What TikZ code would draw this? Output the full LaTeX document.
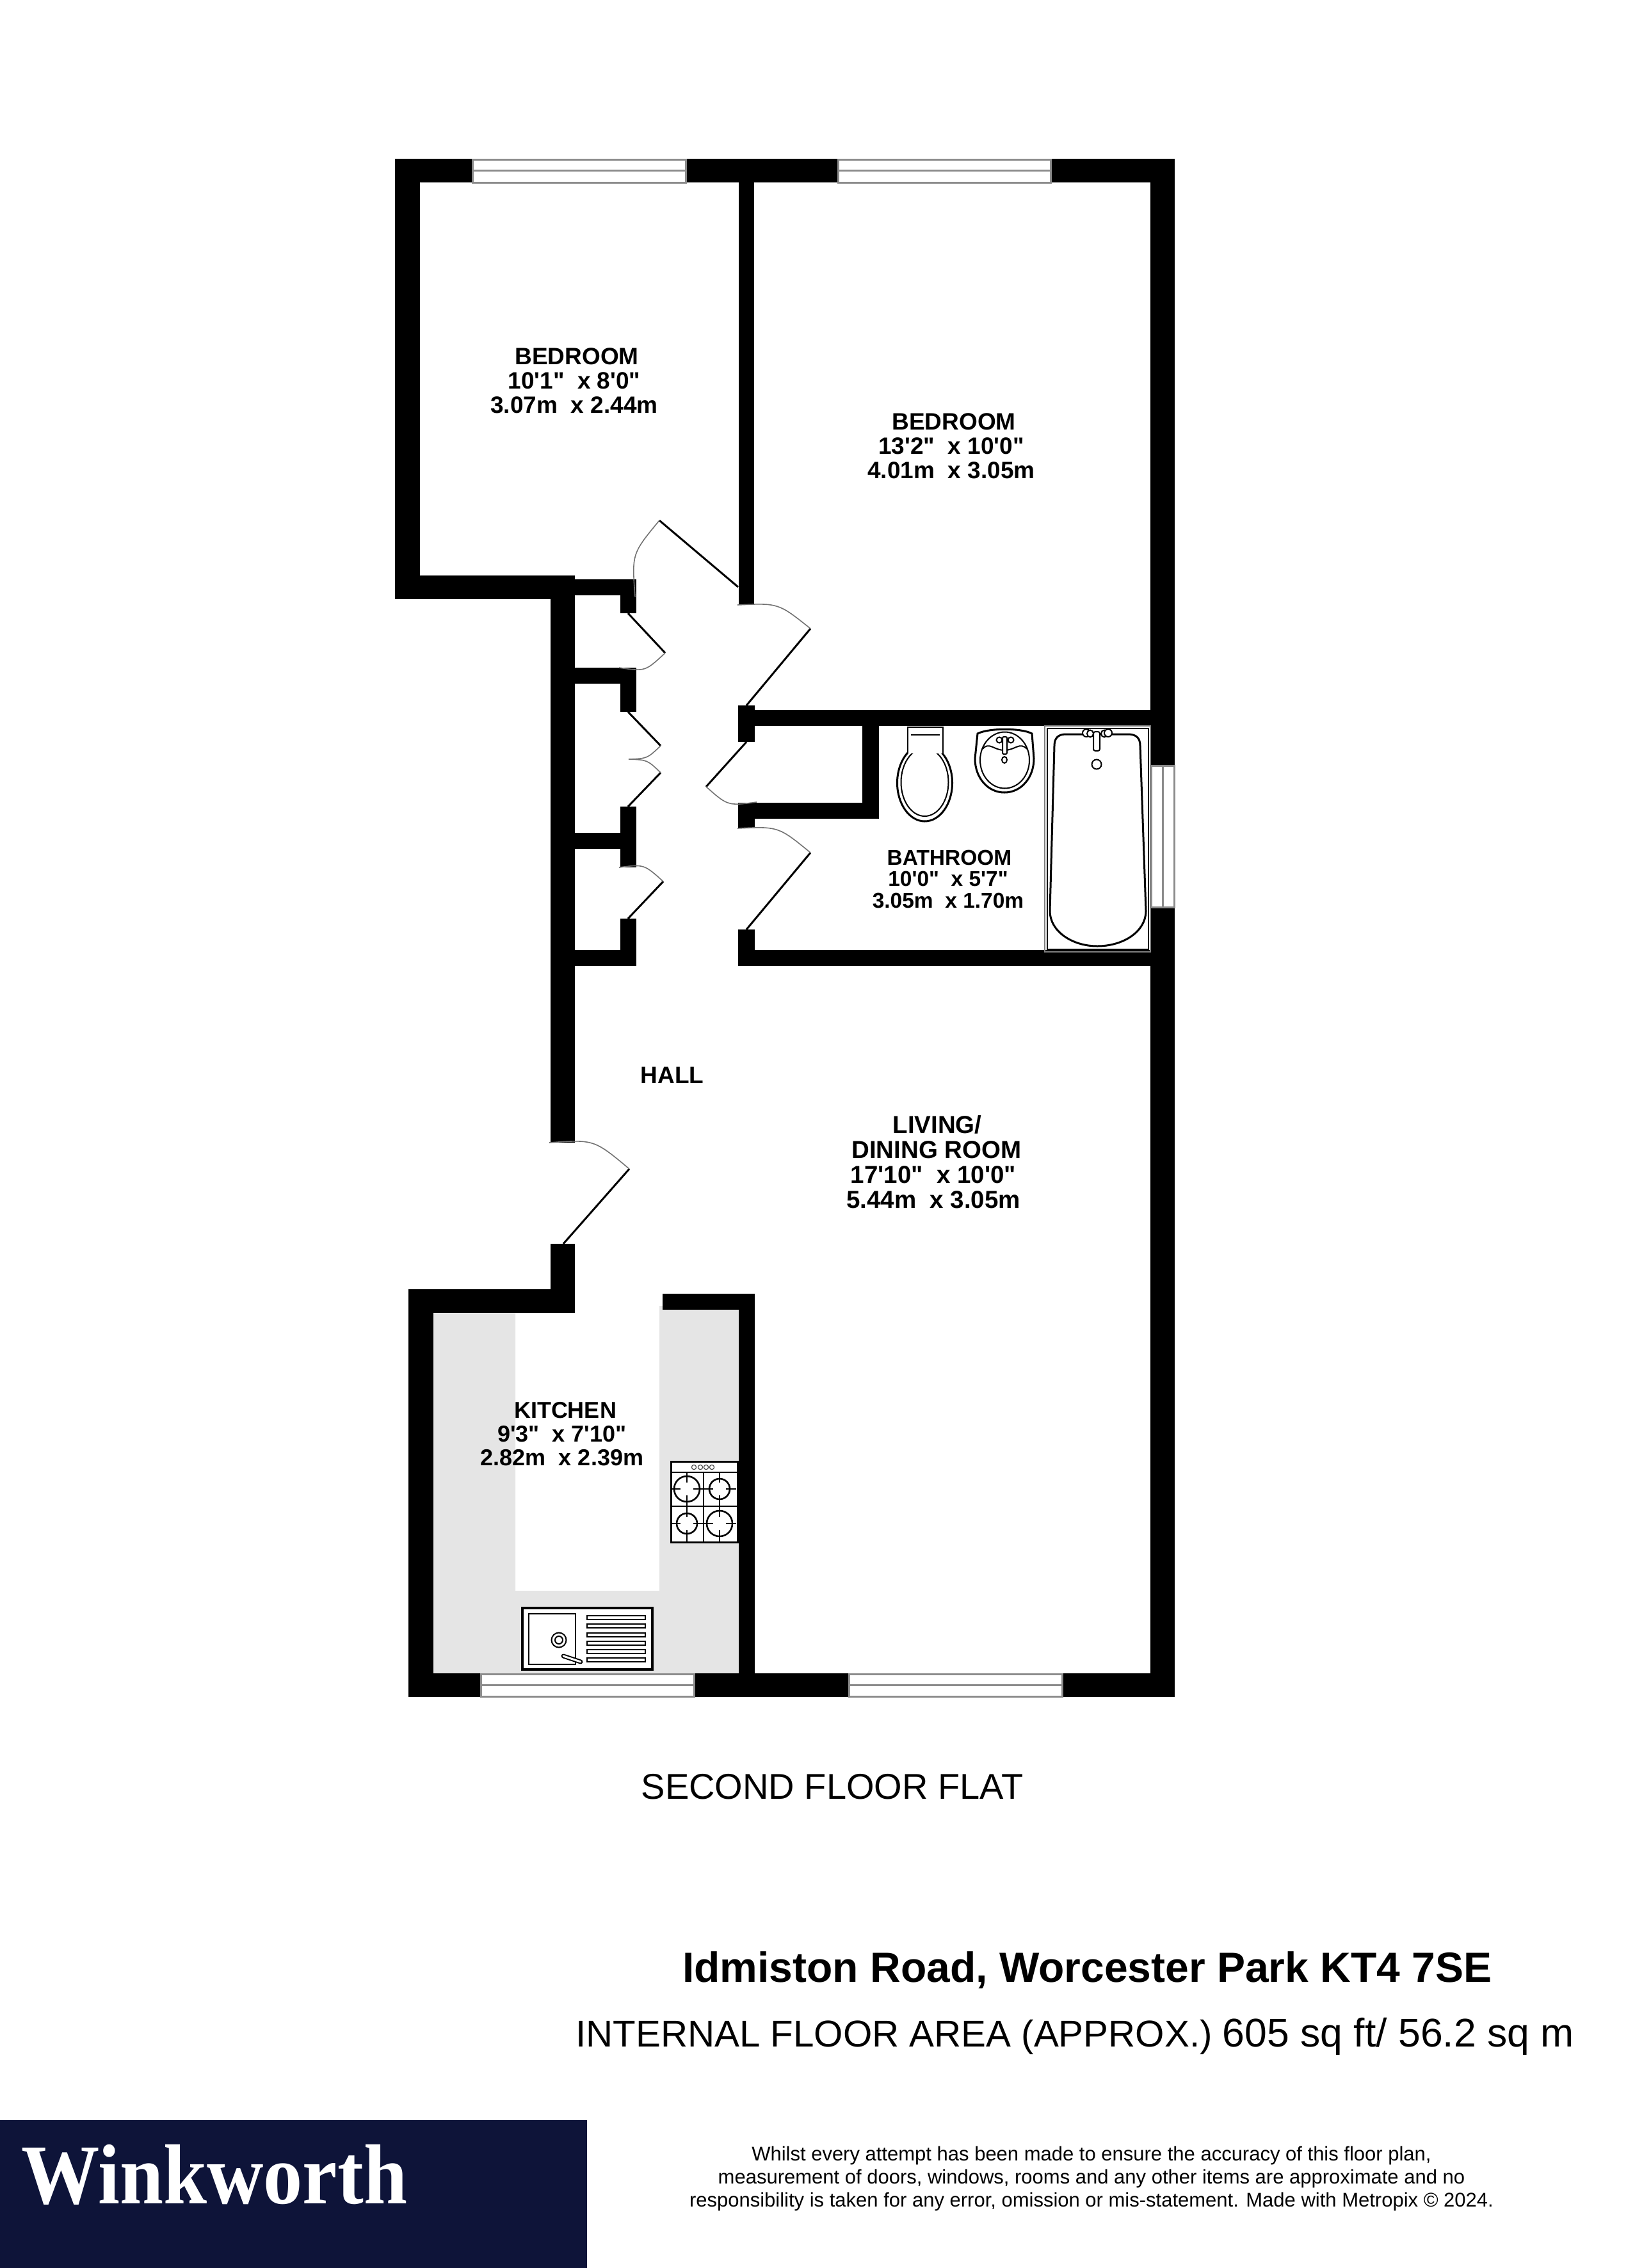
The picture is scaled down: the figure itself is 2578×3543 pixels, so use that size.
\documentclass[tikz,border=0pt]{standalone}
\usepackage{fontspec}
\setmainfont{Liberation Sans}[Ligatures=TeXOff]
\newfontfamily\logofont{Liberation Serif}
\definecolor{logonavy}{HTML}{0E1439}

\begin{document}
\begin{tikzpicture}[
    x=1pt,y=-1pt,
    wall/.style={fill=black},
    glazing/.style={draw=black!45,line width=3pt,fill=white},
    leaf/.style={draw=black,line width=3pt},
    swing/.style={draw=black!55,line width=1.6pt},
    fixture/.style={draw=black,line width=3pt,fill=white},
    thinfix/.style={draw=black,line width=2pt},
    slot/.style={draw=black,line width=1.5pt,fill=white},
    roomlabel/.style={inner sep=0pt,align=center,font=\fontsize{37}{38}\selectfont\bfseries},
    bigroom/.style={inner sep=0pt,align=center,font=\fontsize{38.5}{39}\selectfont\bfseries},
    smallroom/.style={inner sep=0pt,align=center,font=\fontsize{33.5}{33.5}\selectfont\bfseries},
    kitchenlabel/.style={inner sep=0pt,align=center,font=\fontsize{36}{37}\selectfont\bfseries}
    ]

    \useasboundingbox (0,0) rectangle (2578,3543);

    % kitchen worktop
    \fill[black!10] (677,2051) -- (805,2051) -- (805,2485) -- (1030,2485) -- (1030,2040)
    -- (1154,2040) -- (1154,2614) -- (677,2614) -- cycle;

    % outer walls
    \fill[wall] (617,248) rectangle (738,285);
    \fill[wall] (1071,248) rectangle (1309,285);
    \fill[wall] (1641,248) rectangle (1835,285);
    \fill[wall] (617,248) rectangle (656,936);
    \fill[wall] (617,899) rectangle (898,936);
    \fill[wall] (1797,248) rectangle (1835,1196);
    \fill[wall] (1797,1417) rectangle (1835,2651);
    \fill[wall] (860,899) rectangle (898,1785);
    \fill[wall] (860,1943) rectangle (898,2051);
    \fill[wall] (638,2014) rectangle (898,2051);
    \fill[wall] (638,2014) rectangle (677,2651);
    \fill[wall] (638,2614) rectangle (751,2651);
    \fill[wall] (1084,2614) rectangle (1326,2651);
    \fill[wall] (1659,2614) rectangle (1835,2651);

    % inner walls
    \fill[wall] (1154,248) rectangle (1178,944);
    \fill[wall] (898,905) rectangle (994,930);
    \fill[wall] (969,905) rectangle (994,958);
    \fill[wall] (898,1043) rectangle (994,1068);
    \fill[wall] (969,1043) rectangle (994,1112);
    \fill[wall] (969,1260) rectangle (994,1355);
    \fill[wall] (898,1301) rectangle (994,1326);
    \fill[wall] (969,1435) rectangle (994,1509);
    \fill[wall] (898,1484) rectangle (994,1509);
    \fill[wall] (1153,1102) rectangle (1179,1159);
    \fill[wall] (1153,1109) rectangle (1835,1134);
    \fill[wall] (1347,1109) rectangle (1373,1279);
    \fill[wall] (1153,1254) rectangle (1373,1279);
    \fill[wall] (1153,1254) rectangle (1179,1294);
    \fill[wall] (1153,1452) rectangle (1179,1509);
    \fill[wall] (1153,1484) rectangle (1835,1509);
    \fill[wall] (1035,2021) rectangle (1179,2046);
    \fill[wall] (1154,2021) rectangle (1179,2651);

    % windows
    \draw[glazing] (738,249) rectangle (1071,285);
    \draw[glazing] (738,266) -- (1071,266);
    \draw[glazing] (1309,249) rectangle (1641,285);
    \draw[glazing] (1309,266) -- (1641,266);
    \draw[glazing] (1798,1196) rectangle (1834,1417);
    \draw[glazing] (1816,1196) -- (1816,1417);
    \draw[glazing] (751,2615) rectangle (1084,2650);
    \draw[glazing] (751,2632) -- (1084,2632);
    \draw[glazing] (1326,2615) rectangle (1659,2650);
    \draw[glazing] (1326,2632) -- (1659,2632);

    % doors
    \draw[leaf] (1153,917) -- (1030,813);
    \draw[swing] (1030,813) .. controls (987,865) .. (992,932);
    \draw[leaf] (981,958) -- (1039,1020);
    \draw[swing] (1039,1020) .. controls (1008,1049) .. (967,1043);
    \draw[leaf] (1166,1102) -- (1266,982);
    \draw[swing] (1266,982) .. controls (1216,942) .. (1152,945);
    \draw[leaf] (981,1112) -- (1032,1165);
    \draw[swing] (1032,1165) .. controls (1011,1185) .. (982,1186);
    \draw[leaf] (981,1260) -- (1032,1207);
    \draw[swing] (1032,1207) .. controls (1011,1187) .. (982,1186);
    \draw[leaf] (981,1435) -- (1036,1377);
    \draw[swing] (1036,1377) .. controls (1006,1350) .. (967,1355);
    \draw[leaf] (1166,1159) -- (1103,1229);
    \draw[swing] (1103,1229) .. controls (1137,1259) .. (1182,1253);
    \draw[leaf] (1166,1452) -- (1266,1332);
    \draw[swing] (1266,1332) .. controls (1216,1291) .. (1152,1294);
    \draw[leaf] (880,1943) -- (983,1826);
    \draw[swing] (983,1826) .. controls (928,1780) .. (858,1785);

    % toilet
    \draw[fixture] (1444.5,1223) ellipse [x radius=43,y radius=60];
    \draw[thinfix] (1444.5,1222) ellipse [x radius=37,y radius=53];
    \draw[fixture,line width=2.5pt] (1418,1177) -- (1418,1136) -- (1473,1136) -- (1473,1177);
    \draw[thinfix] (1423,1148) -- (1468,1148);

    % basin
    \draw[fixture] (1527,1146) .. controls (1545,1137) and (1595,1137) .. (1612,1146)
    -- (1615,1185) .. controls (1615,1215) and (1595,1238) .. (1569,1238)
    .. controls (1543,1238) and (1523,1215) .. (1523,1185) -- cycle;
    \draw[thinfix] (1569.5,1187.5) ellipse [x radius=38.5,y radius=44];
    \draw[thinfix] (1535,1170) .. controls (1545,1158) and (1552,1172) .. (1569,1172)
    .. controls (1586,1172) and (1593,1158) .. (1604,1170);
    \draw[thinfix,fill=white] (1561,1156) circle (4.5);
    \draw[thinfix,fill=white] (1579,1156) circle (4.5);
    \draw[thinfix,fill=white,rounded corners=2pt] (1566,1151) rectangle (1573,1178);
    \draw[thinfix] (1569,1187) ellipse [x radius=4,y radius=5];

    % bath
    \draw[draw=black!50,line width=1.5pt] (1632,1134) rectangle (1797,1487);
    \draw[thinfix] (1636,1138) rectangle (1794,1483);
    \draw[fixture] (1647,1165) .. controls (1647,1153) and (1653,1147) .. (1665,1147)
    -- (1762,1147) .. controls (1775,1147) and (1781,1153) .. (1781,1165)
    -- (1790,1423) .. controls (1790,1455) and (1755,1478) .. (1714,1478)
    .. controls (1675,1478) and (1640,1455) .. (1640,1423) -- cycle;
    \draw[thinfix,fill=white] (1697,1145) ellipse [x radius=6,y radius=6];
    \draw[thinfix,fill=white] (1703,1146) ellipse [x radius=5,y radius=5.5];
    \draw[thinfix,fill=white] (1725,1146) ellipse [x radius=5,y radius=5.5];
    \draw[thinfix,fill=white] (1731,1145) ellipse [x radius=6,y radius=6];
    \draw[thinfix,fill=white,rounded corners=3pt] (1708,1143) rectangle (1718,1173);
    \draw[thinfix] (1713,1194) circle (7.5);

    % cooker
    \draw[fixture,fill=white] (1048,2283) rectangle (1152,2409);
    \draw[slot] (1048,2300) -- (1152,2300) (1099,2300) -- (1099,2409) (1048,2353) -- (1152,2353);
    \draw[draw=black!70,line width=1.2pt] (1084,2292) circle (3.6) (1094,2292) circle (3.6)
    (1103,2292) circle (3.6) (1112,2292) circle (3.6);
    \draw[fixture,fill=none,line width=2.6pt] (1073,2326) circle (20) (1124,2326) circle (16)
    (1073,2380) circle (16) (1124,2380) circle (20);
    \draw[slot,fill=none] (1073,2301) -- (1073,2316) (1073,2336) -- (1073,2370) (1073,2390) -- (1073,2408)
    (1124,2301) -- (1124,2316) (1124,2336) -- (1124,2370) (1124,2390) -- (1124,2408)
    (1050,2326) -- (1063,2326) (1083,2326) -- (1114,2326) (1134,2326) -- (1150,2326)
    (1050,2380) -- (1063,2380) (1083,2380) -- (1114,2380) (1134,2380) -- (1150,2380);

    % sink
    \draw[fixture,line width=3.5pt] (816,2512) rectangle (1019,2608);
    \draw[fixture,line width=2.5pt] (826,2521) rectangle (899,2600);
    \draw[thinfix] (873,2562) circle (11.5) (873,2562) circle (6);
    \draw[line width=7pt,line cap=round] (880,2587) -- (907,2596);
    \draw[line width=3pt,line cap=round,white] (880,2587) -- (907,2596);
    \draw[slot] (917,2524) rectangle (1008,2530);
    \draw[slot] (917,2537) rectangle (1008,2543);
    \draw[slot] (917,2551) rectangle (1008,2557);
    \draw[slot] (917,2564) rectangle (1008,2570);
    \draw[slot] (917,2577) rectangle (1008,2583);
    \draw[slot] (917,2590) rectangle (1008,2596);

    % room labels
    \node[roomlabel] (bedroomone) at (897,595) {\hspace*{8pt}BEDROOM\\10'1"~~x 8'0"\\3.07m~~x 2.44m};
    \node[roomlabel] (bedroomtwo) at (1486,697) {\hspace*{8pt}BEDROOM\\13'2"~~x 10'0"\\4.01m~~x 3.05m};
    \node[smallroom] (bathroom) at (1481,1373) {\hspace*{4pt}BATHROOM\\10'0"~~x 5'7"\\3.05m~~x 1.70m};
    \node[roomlabel] (hall) at (1050,1680) {HALL};
    \node[bigroom] (living) at (1458,1815) {\hspace*{12pt}LIVING/\\\hspace*{10pt}DINING ROOM\\17'10"~~x 10'0"\\5.44m~~x 3.05m};
    \node[kitchenlabel] (kitchen) at (878,2240) {\hspace*{10pt}KITCHEN\\9'3"~~x 7'10"\\2.82m~~x 2.39m};

    % captions
    \node[inner sep=0pt,font=\fontsize{56}{60}\selectfont] (floor) at (1300,2791) {SECOND FLOOR FLAT};
    \node[inner sep=0pt,anchor=west,font=\fontsize{66}{70}\selectfont\bfseries] (address) at (1066,3078)
    {Idmiston Road, Worcester Park KT4 7SE};
    \node[inner sep=0pt,anchor=west,font=\fontsize{58.3}{64}\selectfont] (area) at (899,3181)
    {INTERNAL FLOOR AREA (APPROX.) \fontsize{62.5}{64}\selectfont 605 sq ft/ 56.2 sq m};

    % logo and small print
    \fill[logonavy] (0,3312) rectangle (917,3543);
    \node[inner sep=0pt,anchor=base west,text=white,font=\fontsize{133}{140}\selectfont\logofont\bfseries,
    xscale=0.92,transform shape] (logo) at (33,3442) {Winkworth};
    \node[inner sep=0pt,align=center,font=\fontsize{31}{36}\selectfont] (smallprint) at (1705,3403)
    {Whilst every attempt has been made to ensure the accuracy of this floor plan,\\
    measurement of doors, windows, rooms and any other items are approximate and no\\
    responsibility is taken for any error, omission or mis-statement. Made with Metropix \textcopyright{} 2024.};

\end{tikzpicture}
\end{document}
